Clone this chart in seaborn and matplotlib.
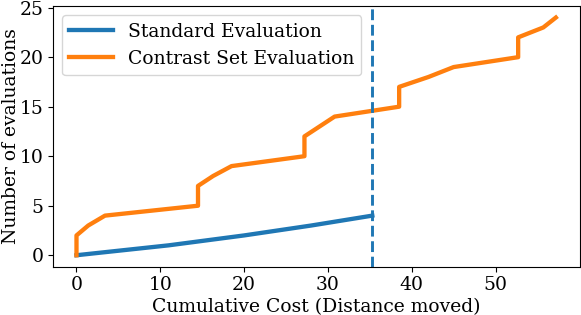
import matplotlib
matplotlib.use("Agg")
import matplotlib.pyplot as plt
import seaborn as sns
import pandas as pd

# Data
std_cost = [0, 11, 20, 28, 35.3]
std_evals = [0, 1, 2, 3, 4]

cs_cost = [0, 0, 1.4, 3.4, 14.5, 14.5, 16.3, 18.5, 27.2, 27.2, 29.0, 30.8, 38.5, 38.5, 42.0, 45.0, 52.7, 52.7, 55.7, 57.2]
cs_evals = [0, 2, 3, 4, 5, 7, 8, 9, 10, 12, 13, 14, 15, 17, 18, 19, 20, 22, 23, 24]

budget = 35.3

plt.rcParams['font.family'] = ['DejaVu Serif']

df_std = pd.DataFrame({"cost": std_cost, "n": std_evals})
df_cs = pd.DataFrame({"cost": cs_cost, "n": cs_evals})

FS = 13.5

fig, ax = plt.subplots(figsize=(5.81, 3.15), dpi=100)
sns.lineplot(data=df_std, x="cost", y="n", sort=False, estimator=None, ax=ax,
             color="#1f77b4", linewidth=3.1, label="Standard Evaluation")
sns.lineplot(data=df_cs, x="cost", y="n", sort=False, estimator=None, ax=ax,
             color="#ff7f0e", linewidth=3.1, label="Contrast Set Evaluation")
ax.axvline(budget, color="#1f77b4", linestyle="--", linewidth=2.1)

ax.set_xlabel("Cumulative Cost (Distance moved)", fontsize=FS, labelpad=3)
ax.set_ylabel("Number of evaluations", fontsize=FS)
ax.yaxis.set_label_coords(-0.061, 0.5)
ax.tick_params(labelsize=FS, pad=3)
ax.set_yticks([0, 5, 10, 15, 20, 25])
ax.set_xticks([0, 10, 20, 30, 40, 50])
ax.legend(loc="upper left", fontsize=FS, handlelength=2.3)

fig.subplots_adjust(left=0.0904, right=0.998, top=0.982, bottom=0.152)
fig.savefig("out.png", dpi=100)
